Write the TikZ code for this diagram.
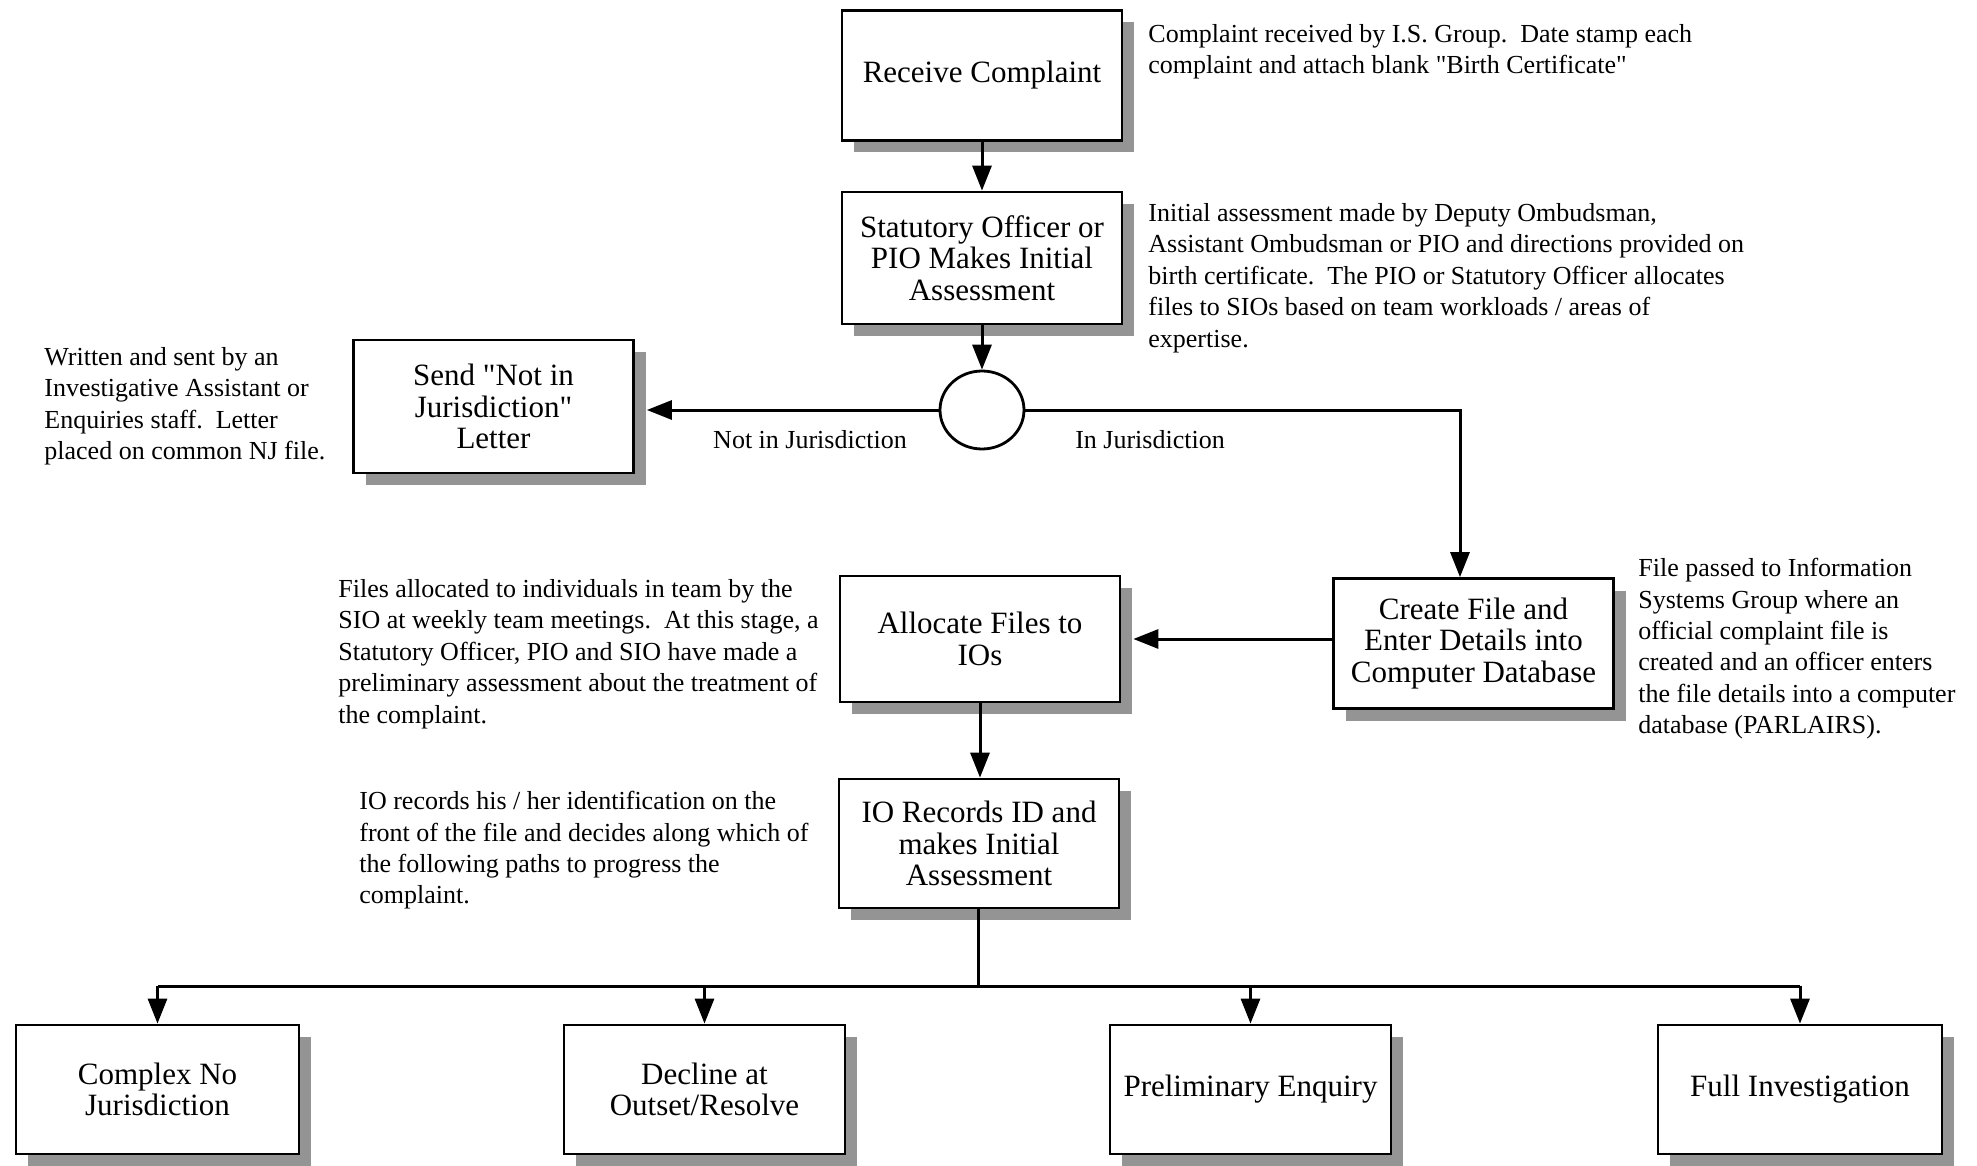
\documentclass[tikz,border=0pt]{standalone}
\usepackage{fontspec}
\setmainfont{Liberation Serif}[Ligatures=TeXOff]
\usetikzlibrary{arrows.meta,shadows,shapes.geometric}

\begin{document}
\begin{tikzpicture}[x=0.5pt,y=-0.5pt,
  stepbox/.style={draw, line width=1.4pt, fill=white, align=center,
    minimum width=140pt, minimum height=65pt, inner sep=2pt,
    font=\fontsize{15.5}{15.8}\selectfont,
    drop shadow={shadow xshift=6pt, shadow yshift=-6pt, fill=black!42, opacity=1}},
  note/.style={anchor=north west, align=left, inner sep=0pt,
    font=\fontsize{13}{15.7}\selectfont},
  lbl/.style={inner sep=0pt, font=\fontsize{13}{15.7}\selectfont},
  flow/.style={line width=1.5pt, -{Triangle[length=12.5pt,width=9.5pt]}},
  link/.style={line width=1.5pt}]

\useasboundingbox (0,0) rectangle (1977,1166);

% process boxes
\node[stepbox] (rc) at (982,75.5) {Receive Complaint};
\node[stepbox, minimum height=66pt] (so) at (982,258) {Statutory Officer or\\PIO Makes Initial\\Assessment};
\node[draw, ellipse, line width=1.4pt, minimum width=42pt, minimum height=39pt, inner sep=0pt] (dec) at (982,410) {};
\node[stepbox, minimum height=66.5pt] (nj) at (493.5,406.5) {Send "Not in\\Jurisdiction"\\Letter};
\node[stepbox] (cf) at (1473.5,643.5) {Create File and\\Enter Details into\\Computer Database};
\node[stepbox, minimum height=63pt] (af) at (980,639) {Allocate Files to\\IOs};
\node[stepbox, minimum height=64.5pt] (io) at (979,843.5) {IO Records ID and\\makes Initial\\Assessment};
\node[stepbox, minimum height=64.5pt, minimum width=141.5pt] (cn) at (157.5,1089.5) {Complex No\\Jurisdiction};
\node[stepbox, minimum height=64.5pt, minimum width=140.5pt] (dc) at (704.5,1089.5) {Decline at\\Outset/Resolve};
\node[stepbox, minimum height=64.5pt, minimum width=140.5pt] (pe) at (1250.5,1089.5) {Preliminary Enquiry};
\node[stepbox, minimum height=64.5pt, minimum width=142pt] (fi) at (1800,1089.5) {Full Investigation};

% notes
\node[note] (n1) at (1148,24) {Complaint received by I.S. Group.\ \ Date stamp each\\complaint and attach blank "Birth Certificate"};
\node[note] (n2) at (1148,203) {Initial assessment made by Deputy Ombudsman,\\Assistant Ombudsman or PIO and directions provided on\\birth certificate.\ \ The PIO or Statutory Officer allocates\\files to SIOs based on team workloads / areas of\\expertise.};
\node[note] (n3) at (44,347) {Written and sent by an\\Investigative Assistant or\\Enquiries staff.\ \ Letter\\placed on common NJ file.};
\node[note] (n4) at (1638,558) {File passed to Information\\Systems Group where an\\official complaint file is\\created and an officer enters\\the file details into a computer\\database (PARLAIRS).};
\node[note] (n5) at (338,579) {Files allocated to individuals in team by the\\SIO at weekly team meetings.\ \ At this stage, a\\Statutory Officer, PIO and SIO have made a\\preliminary assessment about the treatment of\\the complaint.};
\node[note] (n6) at (359,791) {IO records his / her identification on the\\front of the file and decides along which of\\the following paths to progress the\\complaint.};

% branch labels
\node[lbl] (lnj) at (810,440) {Not in Jurisdiction};
\node[lbl] (lin) at (1150,440) {In Jurisdiction};

% connectors
\draw[flow] (rc.south) -- (so.north);
\draw[flow] (so.south) -- (dec.north);
\draw[flow] (dec.west) -- ([xshift=6pt]nj.east |- dec.west);
\coordinate (turn) at (1460,410);
\draw[flow] (dec.east) -- (turn) -- (turn |- cf.north);
\draw[flow] (cf.west |- af.east) -- ([xshift=6pt]af.east);
\draw[flow] (af.south) -- (af.south |- io.north);
\coordinate (bus) at (978,986);
\draw[link] (io.south -| bus) -- (bus);
\draw[link] (bus -| cn.north) -- (bus -| fi.north);
\draw[flow] (bus -| cn.north) -- (cn.north);
\draw[flow] (bus -| dc.north) -- (dc.north);
\draw[flow] (bus -| pe.north) -- (pe.north);
\draw[flow] (bus -| fi.north) -- (fi.north);
\end{tikzpicture}
\end{document}
